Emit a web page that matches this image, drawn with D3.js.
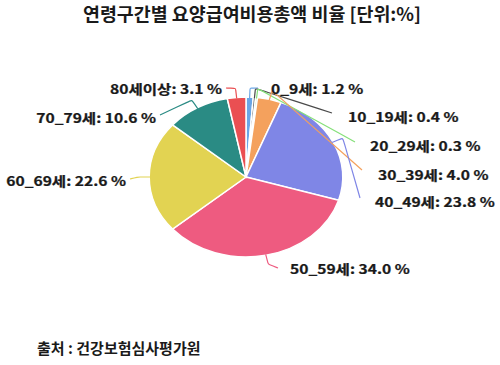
<!DOCTYPE html>
<html><head><meta charset="utf-8">
<script src="https://cdn.jsdelivr.net/npm/d3@7"></script>
<style>
html,body{margin:0;padding:0;background:#fff;}
text{font-family:"Noto Sans CJK KR","Noto Sans",sans-serif;font-weight:bold;fill:#1a1a1a;}
</style></head>
<body><svg id="c" width="500" height="365"></svg>
<script>
const categories = ["0_9세","10_19세","20_29세","30_39세","40_49세","50_59세","60_69세","70_79세","80세이상"];
const values = [1.2, 0.4, 0.3, 4.0, 23.8, 34.0, 22.6, 10.6, 3.1];
const colors = ["#6aa6e6","#4a4a4a","#86e07a","#f4a15d","#7f86e6","#ee5b80","#e2d352","#2a8b84","#ea4f52"];
const title = "연령구간별 요양급여비용총액 비율 [단위:%]";
const source = "출처 : 건강보험심사평가원";
// label layout: line end point, text anchor x, text y
const labelLayout = [
  {ex:258, ey:88, tx:271, ty:88, side:"r"},
  {ex:332, ey:113, tx:348, ty:116, side:"r"},
  {ex:355, ey:142, tx:370, ty:145, side:"r"},
  {ex:362, ey:170, tx:378, ty:174, side:"r"},
  {ex:360, ey:198, tx:375, ty:201, side:"r"},
  {ex:278, ey:268, tx:290, ty:268, side:"r"},
  {ex:130, ey:179, tx:126, ty:180, side:"l"},
  {ex:160, ey:115, tx:156, ty:117, side:"l"},
  {ex:226, ey:88, tx:222, ty:88, side:"l"}
];

const svg = d3.select("#c");
const cx = 246, cy = 177, R = 80, sx = 1.21;

svg.append("text").attr("x",252).attr("y",21).attr("text-anchor","middle")
  .attr("font-size",18).attr("textLength",338).attr("lengthAdjust","spacingAndGlyphs").text(title);

const data = categories.map((c,i)=>({cat:c,val:values[i],color:colors[i],lay:labelLayout[i]}));
const pie = d3.pie().sort(null).value(d=>d.val).startAngle(0).endAngle(2*Math.PI);
const arcs = pie(data);
const arc = d3.arc().innerRadius(0).outerRadius(R);

const g = svg.append("g").attr("transform",`translate(${cx},${cy}) scale(${sx},1)`);
g.selectAll("path").data(arcs).join("path")
  .attr("d",arc).attr("fill",d=>d.data.color)
  .attr("stroke","#fff").attr("stroke-width",1.5).attr("vector-effect","non-scaling-stroke");

const pt = (a,r)=>[cx + sx*r*Math.sin(a), cy - r*Math.cos(a)];
const line = d3.line().curve(d3.curveBasis);
svg.selectAll("path.lbl").data(arcs).join("path").attr("class","lbl")
  .attr("d",d=>{
    const m=(d.startAngle+d.endAngle)/2;
    const p0=pt(m,R-1), p1=pt(m,R+9), L=d.data.lay;
    return line([p0,p1,p1,[L.ex,L.ey]]);
  })
  .attr("fill","none").attr("stroke",d=>d.data.color).attr("stroke-width",1.2);

const tsx = 1.2;
svg.selectAll("text.lab").data(arcs).join("text").attr("class","lab")
  .attr("transform",d=>`translate(${d.data.lay.tx},${d.data.lay.ty}) scale(${tsx},1)`)
  .attr("text-anchor",d=>d.data.lay.side==="l"?"end":"start")
  .attr("dominant-baseline","central")
  .attr("font-size",13)
  .attr("stroke","#1a1a1a").attr("stroke-width",0.25)
  .text(d=>`${d.data.cat}: ${d.data.val.toFixed(1)} %`);

svg.append("text").attr("x",37).attr("y",354).attr("font-size",15).text(source);
</script></body></html>
